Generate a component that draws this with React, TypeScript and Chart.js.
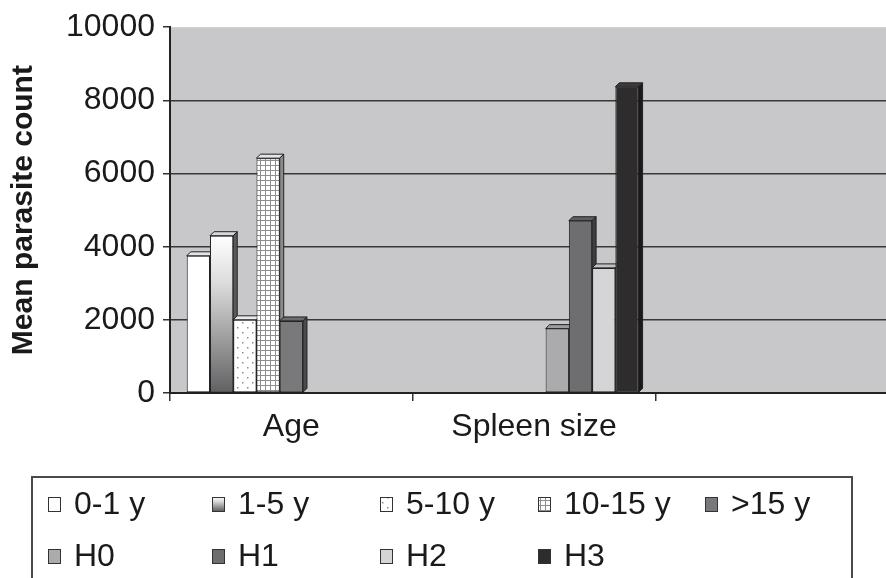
import React, { useEffect, useRef } from "react";
import { Chart, registerables } from "chart.js";

Chart.register(...registerables);

// ---- data ----
const categories = ["Age", "Spleen size", ""];
const ageLabels = ["0-1 y", "1-5 y", "5-10 y", "10-15 y", ">15 y"];
const ageValues = [3750, 4300, 2000, 6420, 1970];
const spleenLabels = ["H0", "H1", "H2", "H3"];
const spleenValues = [1760, 4710, 3420, 8370];
const yTickValues = [0, 2000, 4000, 6000, 8000, 10000];
const yTitle = "Mean parasite count";

// ---- styles ----
const FONT = "'Liberation Sans', Arial, sans-serif";
const PLOT_BG = "#c8c8ca";
const DEPTH = 4;
// kind: solid | gradient | dots | grid
const seriesFill = [
  { kind: "solid", color: "#ffffff", top: "#e4e4e4", side: "#a8a8a8" },
  { kind: "gradient", color: "#ffffff", top: "#d8d8d8", side: "#5a5a5a" },
  { kind: "dots", color: "#ffffff", top: "#eaeaea", side: "#a0a0a0" },
  { kind: "grid", color: "#ffffff", top: "#e4e4e4", side: "#8c8c8c" },
  { kind: "solid", color: "#79797b", top: "#6c6c6e", side: "#4a4a4a" },
  { kind: "solid", color: "#ababad", top: "#9c9c9e", side: "#7a7a7a" },
  { kind: "solid", color: "#6e6e71", top: "#5e5e60", side: "#3e3e40" },
  { kind: "solid", color: "#d5d5d7", top: "#c2c2c4", side: "#9c9c9e" },
  { kind: "solid", color: "#2e2c2d", top: "#3c3a3b", side: "#1a1a1a" },
];
const legendBox = { left: 32, top: 477, right: 852, bottom: 600 };
const legendCols = [48, 212, 380, 538, 705];
const legendRows = [504, 556];

function makeDots(): CanvasPattern | string {
  const c = document.createElement("canvas");
  c.width = 10;
  c.height = 10;
  const g = c.getContext("2d")!;
  g.fillStyle = "#ffffff";
  g.fillRect(0, 0, 10, 10);
  g.fillStyle = "#8a8a8a";
  g.fillRect(2, 2, 1.5, 1.5);
  g.fillRect(7, 7, 1.5, 1.5);
  return g.createPattern(c, "repeat") || "#fff";
}

function makeGrid(): CanvasPattern | string {
  const c = document.createElement("canvas");
  c.width = 5;
  c.height = 5;
  const g = c.getContext("2d")!;
  g.fillStyle = "#ffffff";
  g.fillRect(0, 0, 5, 5);
  g.fillStyle = "#8e8e8e";
  g.fillRect(0, 0, 5, 1);
  g.fillRect(0, 0, 1, 5);
  return g.createPattern(c, "repeat") || "#fff";
}

export default function App() {
  const ref = useRef<HTMLCanvasElement>(null);

  useEffect(() => {
    if (!ref.current) return;
    const dots = makeDots();
    const grid = makeGrid();

    const fillFor = (i: number, ctx: CanvasRenderingContext2D, top: number, bottom: number) => {
      const s = seriesFill[i];
      if (s.kind === "dots") return dots;
      if (s.kind === "grid") return grid;
      if (s.kind === "gradient") {
        const gr = ctx.createLinearGradient(0, top, 0, bottom);
        gr.addColorStop(0, "#ffffff");
        gr.addColorStop(0.3, "#dcdcdc");
        gr.addColorStop(1, "#606062");
        return gr;
      }
      return s.color;
    };

    const allLabels = [...ageLabels, ...spleenLabels];
    const datasets = allLabels.map((label, i) => {
      const data =
        i < ageLabels.length
          ? [ageValues[i], null, null]
          : [null, spleenValues[i - ageLabels.length], null];
      return {
        label,
        data,
        borderColor: "#222222",
        borderWidth: 1,
        borderSkipped: false as const,
        categoryPercentage: 0.862,
        barPercentage: 1,
        backgroundColor: (c: any) => {
          const chart = c.chart;
          if (!chart.chartArea || c.raw == null) return "rgba(0,0,0,0)";
          const y = chart.scales.y;
          return fillFor(i, chart.ctx, y.getPixelForValue(c.raw), y.getPixelForValue(0));
        },
      };
    });

    const bgPlugin = {
      id: "plotBg",
      beforeDraw(chart: any) {
        const { ctx, chartArea: a } = chart;
        ctx.save();
        ctx.fillStyle = PLOT_BG;
        ctx.fillRect(a.left, a.top, a.right - a.left, a.bottom - a.top);
        ctx.restore();
      },
    };

    const depthPlugin = {
      id: "depth3d",
      beforeDatasetsDraw(chart: any) {
        const ctx = chart.ctx;
        chart.data.datasets.forEach((ds: any, i: number) => {
          const meta = chart.getDatasetMeta(i);
          meta.data.forEach((el: any, j: number) => {
            if (ds.data[j] == null) return;
            const { x, y, base, width } = el.getProps(["x", "y", "base", "width"], true);
            const l = x - width / 2;
            const r = x + width / 2;
            const d = DEPTH;
            const s = seriesFill[i];
            ctx.save();
            ctx.lineWidth = 1;
            ctx.strokeStyle = "#222222";
            ctx.beginPath();
            ctx.moveTo(l, y);
            ctx.lineTo(l + d, y - d);
            ctx.lineTo(r + d, y - d);
            ctx.lineTo(r, y);
            ctx.closePath();
            ctx.fillStyle = s.top;
            ctx.fill();
            ctx.stroke();
            ctx.beginPath();
            ctx.moveTo(r, y);
            ctx.lineTo(r + d, y - d);
            ctx.lineTo(r + d, base - d);
            ctx.lineTo(r, base);
            ctx.closePath();
            ctx.fillStyle = s.side;
            ctx.fill();
            ctx.stroke();
            ctx.restore();
          });
        });
      },
    };

    const legendPlugin = {
      id: "boxLegend",
      afterDraw(chart: any) {
        const ctx = chart.ctx;
        ctx.save();
        ctx.strokeStyle = "#4a4a4a";
        ctx.lineWidth = 2;
        ctx.strokeRect(
          legendBox.left,
          legendBox.top,
          legendBox.right - legendBox.left,
          legendBox.bottom - legendBox.top
        );
        ctx.font = `32px ${FONT}`;
        ctx.textBaseline = "middle";
        ctx.textAlign = "left";
        chart.data.datasets.forEach((ds: any, i: number) => {
          const row = i < ageLabels.length ? 0 : 1;
          const col = i < ageLabels.length ? i : i - ageLabels.length;
          const x = legendCols[col];
          const cy = legendRows[row];
          const w = 12;
          const h = 14;
          const top = cy - h / 2;
          ctx.fillStyle = fillFor(i, ctx, top, top + h);
          ctx.fillRect(x, top, w, h);
          ctx.lineWidth = 1;
          ctx.strokeStyle = "#333333";
          ctx.strokeRect(x + 0.5, top + 0.5, w, h);
          ctx.fillStyle = "#1a1a1a";
          ctx.fillText(ds.label, x + 26, cy + 1);
        });
        ctx.restore();
      },
    };

    const chart = new Chart(ref.current, {
      type: "bar",
      data: { labels: categories, datasets },
      plugins: [bgPlugin, depthPlugin, legendPlugin],
      options: {
        animation: false,
        responsive: false,
        layout: { padding: { top: 24, right: 0, left: 0, bottom: 0 } },
        plugins: { legend: { display: false }, tooltip: { enabled: false } },
        scales: {
          x: {
            offset: true,
            afterFit: (s: any) => {
              s.height = 185;
            },
            grid: {
              offset: true,
              drawOnChartArea: false,
              drawTicks: true,
              tickLength: 8,
              color: "#333333",
              lineWidth: 1.5,
            },
            border: { display: true, color: "#222222", width: 2 },
            ticks: {
              color: "#1a1a1a",
              font: { family: FONT, size: 32 },
              padding: 7,
              maxRotation: 0,
            },
          },
          y: {
            min: 0,
            max: 10000,
            afterFit: (s: any) => {
              s.width = 170;
            },
            afterBuildTicks: (s: any) => {
              s.ticks = yTickValues.map((v) => ({ value: v }));
            },
            grid: {
              color: (c: any) => (c.tick && c.tick.value === 10000 ? "rgba(0,0,0,0)" : "#383838"),
              lineWidth: 1.5,
              tickColor: "#333333",
              tickLength: 7,
            },
            border: { display: true, color: "#222222", width: 2 },
            ticks: {
              color: "#1a1a1a",
              font: { family: FONT, size: 32 },
              padding: 8,
              callback: (v: any) => String(v),
            },
            title: {
              display: true,
              text: yTitle,
              color: "#1a1a1a",
              font: { family: FONT, size: 30, weight: "bold" },
              padding: { top: 6, bottom: 0 },
            },
          },
        },
      },
    });
    return () => chart.destroy();
  }, []);

  return (
    <div
      style={{
        position: "absolute",
        left: 0,
        top: 0,
        width: 886,
        height: 578,
        overflow: "hidden",
        background: "#ffffff",
      }}
    >
      <canvas ref={ref} width={898} height={578} style={{ display: "block" }} />
    </div>
  );
}
